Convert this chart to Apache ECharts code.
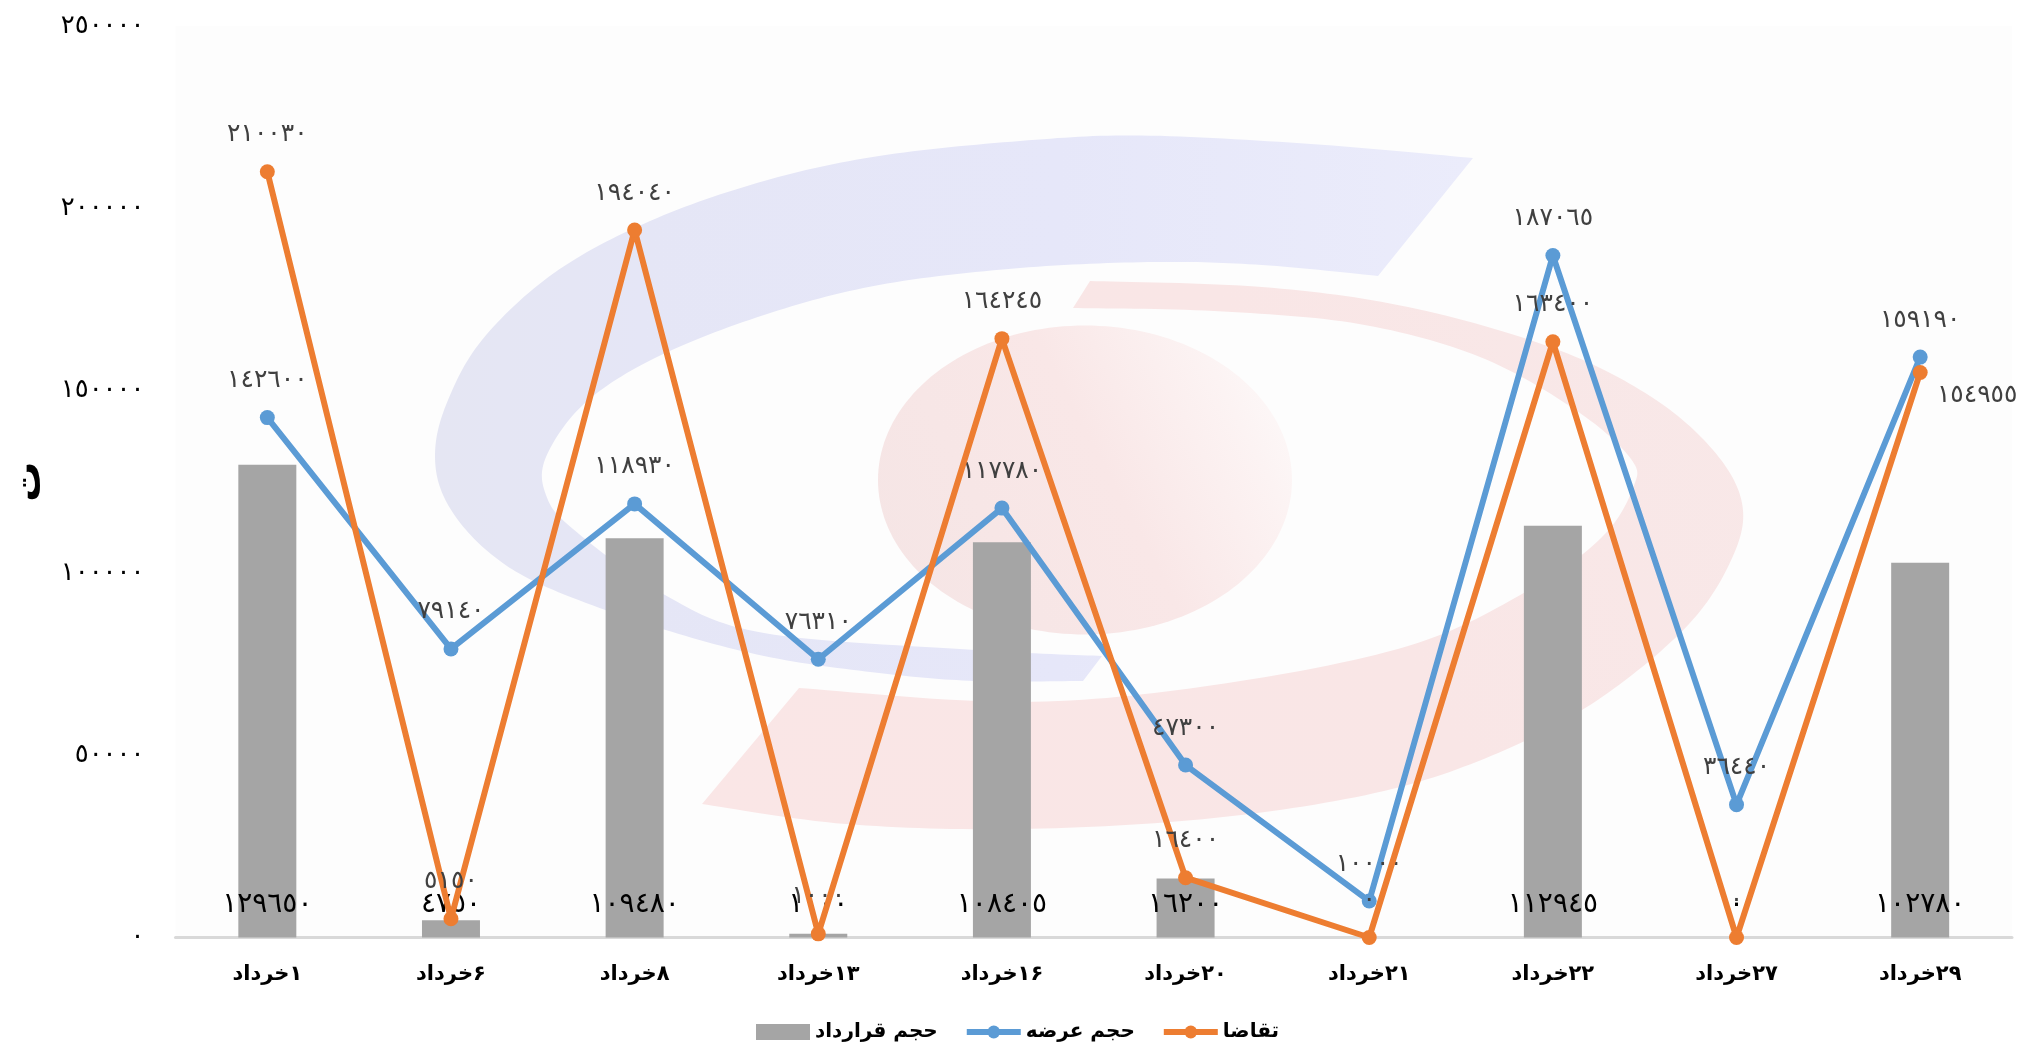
<!DOCTYPE html>
<html dir="rtl"><head><meta charset="utf-8">
<style>html,body{margin:0;padding:0;background:#fff;overflow:hidden}#c{width:2026px;height:1047px}</style>
<script src="https://cdn.jsdelivr.net/npm/echarts@6/dist/echarts.min.js"></script>
</head><body><div id="c"></div>
<script>
const categories = ['۱خرداد','۶خرداد','۸خرداد','۱۳خرداد','۱۶خرداد','۲۰خرداد','۲۱خرداد','۲۲خرداد','۲۷خرداد','۲۹خرداد'];
const contractVolume = [129650,4750,109480,1000,108405,16200,0,112945,0,102780];
const supplyVolume = [142600,79140,118930,76310,117780,47300,10000,187065,36440,159190];
const demand = [210030,5150,194040,1000,164245,16400,0,163400,0,154955];
const seriesNames = ['حجم قرارداد','حجم عرضه','تقاضا'];
const yAxisName = 'ت';

const logoBlueOuter = [[1473,158],[1311,144],[1141,135.5],[1020,141],[879,156],[764,181],[650,221],[554,273],[482,340],[446,405],[435,457],[447,503],[485,549],[542,585],[650,625],[764,656],[879,673],[975,681],[1083,681]];
const logoBlueInner = [[1102,656],[975,650],[764,633],[665,595],[573,529],[546,495],[546,457],[585,403],[657,357],[764,315],[879,285],[1020,268],[1156,262],[1262,265],[1378,276]];
const logoRedOuter = [[1090,281],[1262,287],[1408,307],[1553,348],[1650,396],[1713,450],[1742,503],[1733,556],[1689,624],[1602,697],[1505,750],[1384,791],[1214,818],[1020,829],[846,824],[702,804]];
const logoRedInner = [[799,688],[1020,702],[1214,685],[1408,646],[1529,590],[1602,537],[1633,488],[1631,459],[1577,411],[1480,357],[1359,324],[1214,311],[1073,308]];
const logoDiscCentre = [1085,480], logoDiscRadii = [207,154.5];

const DIG='٠١٢٣٤٥٦٧٨٩';
const fa = v => String(v).replace(/\d/g, d => DIG[d]);
function spline(p){
  const out=[];
  for(let i=0;i<p.length-1;i++){
    const a=p[Math.max(i-1,0)],b=p[i],c=p[i+1],d=p[Math.min(i+2,p.length-1)];
    for(let k=0;k<16;k++){
      const t=k/16,t2=t*t,t3=t2*t;
      const f=j=>0.5*(2*b[j]+(c[j]-a[j])*t+(2*a[j]-5*b[j]+4*c[j]-d[j])*t2+(3*b[j]-a[j]-3*c[j]+d[j])*t3);
      out.push([f(0),f(1)]);
    }
  }
  out.push(p[p.length-1]);
  return out;
}
function disc(c,r){const o=[];for(let i=0;i<180;i++){const t=i/180*2*Math.PI;o.push([c[0]+r[0]*Math.cos(t),c[1]+r[1]*Math.sin(t)]);}return o;}
const FONT='"DejaVu Sans"';
const lineLabel={show:true,position:'top',distance:17,fontFamily:FONT,fontSize:25,color:'#404040',formatter:p=>fa(p.value)};
const chart=echarts.init(document.getElementById('c'),null,{renderer:'canvas'});
chart.setOption({
  animation:false,
  backgroundColor:'#ffffff',
  textStyle:{fontFamily:FONT},
  grid:{left:175.5,right:14,top:26,bottom:109.5,show:true,backgroundColor:'#fdfdfd',borderWidth:0},
  graphic:[
    {type:'polygon',z:1,silent:true,shape:{points:spline(logoBlueOuter).concat(spline(logoBlueInner))},
     style:{fill:new echarts.graphic.LinearGradient(0,0,1,0,[{offset:0,color:'#e5e6f3'},{offset:.2,color:'#e5e6f6'},{offset:.6,color:'#e6e7f9'},{offset:1,color:'#ebecfb'}])}},
    {type:'polygon',z:1,silent:true,shape:{points:spline(logoRedOuter).concat(spline(logoRedInner))},
     style:{fill:new echarts.graphic.LinearGradient(0,1,1,0,[{offset:0,color:'#fae6e6'},{offset:.6,color:'#f9e6e6'},{offset:1,color:'#f8e8e8'}])}},
    {type:'polygon',z:1,silent:true,shape:{points:disc(logoDiscCentre,logoDiscRadii)},
     style:{fill:new echarts.graphic.LinearGradient(0,0.85,1,0.15,[{offset:0,color:'#f5e5e5'},{offset:.55,color:'#f9e7e7'},{offset:.85,color:'#fcf3f3'},{offset:1,color:'#fdfafa'}])}}
  ],
  legend:{left:751,top:1017,itemWidth:54,itemHeight:16,itemGap:26,
    data:[{name:seriesNames[0],icon:'rect'},{name:seriesNames[1]},{name:seriesNames[2]}],
    lineStyle:{width:6},
    textStyle:{fontFamily:FONT,fontWeight:'bold',fontSize:20,color:'#000'}},
  xAxis:{type:'category',data:categories,
    axisTick:{show:false},
    axisLine:{lineStyle:{color:'#d9d9d9',width:3}},
    axisLabel:{interval:0,margin:27,fontFamily:FONT,fontWeight:'bold',fontSize:21,color:'#000'}},
  yAxis:{type:'value',min:0,max:250000,interval:50000,
    name:yAxisName,nameLocation:'middle',nameRotate:90,nameGap:125,
    nameTextStyle:{fontFamily:FONT,fontWeight:'bold',fontSize:40,color:'#000'},
    splitLine:{show:false},axisLine:{show:false},axisTick:{show:false},
    axisLabel:{margin:31,fontFamily:FONT,fontSize:26,color:'#000',formatter:v=>fa(v)}},
  series:[
    {name:seriesNames[0],type:'bar',data:contractVolume,barWidth:58,itemStyle:{color:'#a5a5a5'},z:2,
     label:{show:true,position:'insideBottom',distance:19,fontFamily:FONT,fontSize:28,color:'#000',formatter:p=>fa(p.value)}},
    {name:seriesNames[1],type:'line',data:supplyVolume,symbol:'circle',symbolSize:15,z:3,
     lineStyle:{color:'#5b9bd5',width:6},itemStyle:{color:'#5b9bd5'},label:lineLabel},
    {name:seriesNames[2],type:'line',z:4,
     data:demand.map((v,i)=> i===9 ? {value:v,label:{position:'top',offset:[57,60]}} : v),
     symbol:'circle',symbolSize:15,
     lineStyle:{color:'#ed7d31',width:6},itemStyle:{color:'#ed7d31'},label:lineLabel}
  ]
});
</script></body></html>
